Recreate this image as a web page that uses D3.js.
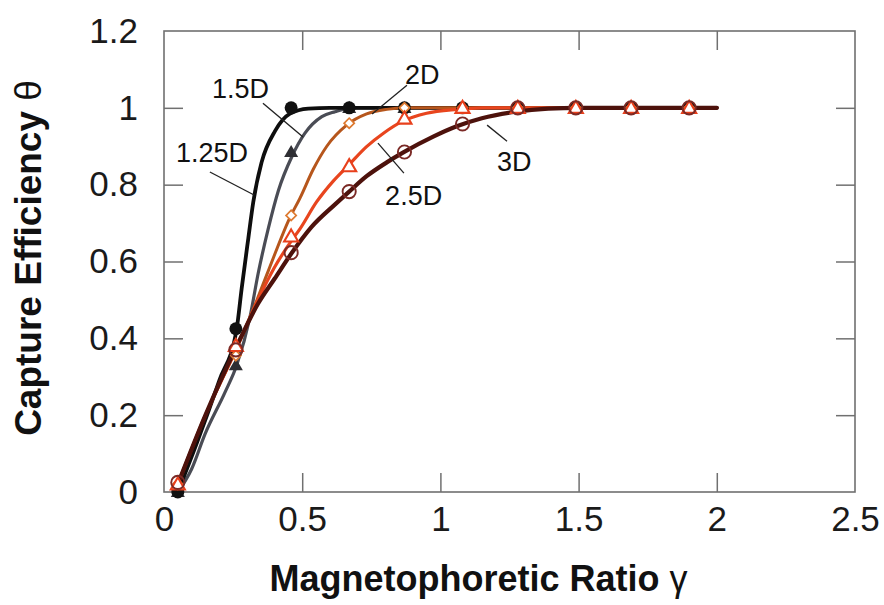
<!DOCTYPE html>
<html>
<head>
<meta charset="utf-8">
<script src="https://cdn.jsdelivr.net/npm/d3@7"></script>
<style>
  html, body { margin: 0; padding: 0; background: #fff; }
  svg { display: block; font-family: Arial, "Liberation Sans", Helvetica, sans-serif; }
</style>
</head>
<body>
<svg id="chart" width="884" height="605"></svg>
<script>
// ---------- data ----------
const xTickValues = [0, 0.5, 1, 1.5, 2, 2.5];
const xTickLabels = ["0", "0.5", "1", "1.5", "2", "2.5"];
const yTickValues = [0, 0.2, 0.4, 0.6, 0.8, 1, 1.2];
const yTickLabels = ["0", "0.2", "0.4", "0.6", "0.8", "1", "1.2"];

const seriesNames = ["1.25D", "1.5D", "2D", "2.5D", "3D"];

// measured points (markers)
const gammaPoints = [0.05, 0.26, 0.46, 0.67, 0.87, 1.08, 1.28, 1.49, 1.69, 1.90];
const theta125 = [0, 0.425, 1, 1, 1, 1, 1, 1, 1, 1];
const theta15  = [0, 0.33, 0.885, 1, 1, 1, 1, 1, 1, 1];
const theta2   = [0.02, 0.355, 0.72, 0.96, 1, 1, 1, 1, 1, 1];
const theta25  = [0.02, 0.38, 0.665, 0.848, 0.972, 1, 1, 1, 1, 1];
const theta3   = [0.025, 0.37, 0.623, 0.782, 0.885, 0.958, 1, 1, 1, 1];

// fitted curves
const curve125X = [0.05, 0.12, 0.2, 0.263, 0.281, 0.305, 0.323, 0.353, 0.402, 0.456, 0.522, 0.6, 2.0];
const curve125Y = [0, 0.13, 0.29, 0.425, 0.53, 0.66, 0.755, 0.858, 0.94, 0.985, 0.998, 1, 1];
const curve15X = [0.05, 0.1, 0.148, 0.221, 0.263, 0.311, 0.341, 0.377, 0.414, 0.462, 0.51, 0.571, 0.619, 0.68, 2.0];
const curve15Y = [0, 0.06, 0.15, 0.26, 0.33, 0.455, 0.57, 0.685, 0.785, 0.872, 0.934, 0.977, 0.99, 1, 1];
const curve2X = [0.05, 0.15, 0.26, 0.317, 0.377, 0.456, 0.492, 0.54, 0.589, 0.661, 0.733, 0.806, 0.87, 2.0];
const curve2Y = [0.02, 0.2, 0.37, 0.465, 0.575, 0.715, 0.765, 0.84, 0.9, 0.955, 0.984, 0.996, 1, 1];
const curve25X = [0.05, 0.15, 0.26, 0.34, 0.40, 0.462, 0.492, 0.552, 0.613, 0.667, 0.733, 0.794, 0.866, 0.95, 1.059, 1.15, 2.0];
const curve25Y = [0.02, 0.2, 0.37, 0.5, 0.585, 0.655, 0.685, 0.755, 0.81, 0.85, 0.899, 0.934, 0.966, 0.986, 0.996, 1, 1];
const curve3X = [0.05, 0.15, 0.26, 0.34, 0.40, 0.462, 0.534, 0.618, 0.667, 0.733, 0.806, 0.866, 0.974, 1.059, 1.15, 1.273, 1.39, 1.5, 2.0];
const curve3Y = [0.02, 0.2, 0.375, 0.49, 0.555, 0.622, 0.69, 0.748, 0.78, 0.822, 0.858, 0.884, 0.925, 0.952, 0.973, 0.99, 0.998, 1, 1];

// ---------- layout ----------
const svg = d3.select("#chart");
const M = { left: 164, right: 855, top: 31, bottom: 492 };
const x = d3.scaleLinear().domain([0, 2.5]).range([M.left, M.right]);
const y = d3.scaleLinear().domain([0, 1.2]).range([M.bottom, M.top]);

const styles = {
  "1.25D": { color: "#0e0e0e", width: 3.8 },
  "1.5D":  { color: "#4a4c55", width: 3.2 },
  "2D":    { color: "#b6561c", width: 3.0 },
  "2.5D":  { color: "#e8451e", width: 3.2 },
  "3D":    { color: "#4d120c", width: 4.2 }
};

const curves = {
  "1.25D": [curve125X, curve125Y],
  "1.5D": [curve15X, curve15Y],
  "2D": [curve2X, curve2Y],
  "2.5D": [curve25X, curve25Y],
  "3D": [curve3X, curve3Y]
};
const points = {
  "1.25D": theta125, "1.5D": theta15, "2D": theta2, "2.5D": theta25, "3D": theta3
};

// ---------- axes ----------
const tickLen = 19;
const axisColor = "#707070";
const fontTick = 35;

const gx = svg.append("g").attr("transform", `translate(0,${M.bottom})`)
  .call(d3.axisBottom(x).tickValues(xTickValues)
    .tickFormat((d, i) => xTickLabels[i])
    .tickSizeInner(-tickLen).tickSizeOuter(0).tickPadding(14));
const gy = svg.append("g").attr("transform", `translate(${M.left},0)`)
  .call(d3.axisLeft(y).tickValues(yTickValues)
    .tickFormat((d, i) => yTickLabels[i])
    .tickSizeInner(-tickLen).tickSizeOuter(0).tickPadding(26));
const gxt = svg.append("g").attr("transform", `translate(0,${M.top})`)
  .call(d3.axisTop(x).tickValues(xTickValues).tickFormat("")
    .tickSizeInner(-tickLen).tickSizeOuter(0));
const gyr = svg.append("g").attr("transform", `translate(${M.right},0)`)
  .call(d3.axisRight(y).tickValues(yTickValues).tickFormat("")
    .tickSizeInner(-tickLen).tickSizeOuter(0));

[gx, gy, gxt, gyr].forEach(g => {
  g.select(".domain").remove();
  g.selectAll(".tick line").attr("stroke", axisColor).attr("stroke-width", 1.5);
  g.selectAll(".tick text").attr("font-size", fontTick).attr("fill", "#1a1a1a")
    .attr("font-family", "Arial, 'Liberation Sans', sans-serif");
});
// hide ticks coinciding with frame
gx.selectAll(".tick").filter(d => d === 0 || d === 2.5).select("line").remove();
gxt.selectAll(".tick").filter(d => d === 0 || d === 2.5).remove();
gy.selectAll(".tick").filter(d => d === 0 || d === 1.2).select("line").remove();
gyr.selectAll(".tick").filter(d => d === 0 || d === 1.2).remove();

svg.append("rect")
  .attr("x", M.left).attr("y", M.top)
  .attr("width", M.right - M.left).attr("height", M.bottom - M.top)
  .attr("fill", "none").attr("stroke", axisColor).attr("stroke-width", 1.6);

// ---------- curves ----------
const line = d3.line().x(d => x(d[0])).y(d => y(d[1])).curve(d3.curveMonotoneX);
const drawOrder = ["1.5D", "1.25D", "2D", "2.5D", "3D"];
drawOrder.forEach(name => {
  const [cx, cy] = curves[name];
  const data = cx.map((v, i) => [v, cy[i]]);
  svg.append("path").datum(data)
    .attr("d", line)
    .attr("fill", "none")
    .attr("stroke", styles[name].color)
    .attr("stroke-width", styles[name].width)
    .attr("stroke-linejoin", "round")
    .attr("stroke-linecap", "round");
});

// ---------- markers ----------
const tri = d3.symbol().type(d3.symbolTriangle).size(85);
const sq = d3.symbol().type(d3.symbolSquare).size(52);

function pts(name) { return gammaPoints.map((g, i) => [g, points[name][i]]); }

svg.append("g").selectAll("path").data(pts("1.5D")).join("path")
  .attr("d", tri).attr("transform", d => `translate(${x(d[0])},${y(d[1]) + 1})`)
  .attr("fill", "#2e2e33");

svg.append("g").selectAll("circle").data(pts("1.25D")).join("circle")
  .attr("cx", d => x(d[0])).attr("cy", d => y(d[1])).attr("r", 6.5)
  .attr("fill", "#111");

svg.append("g").selectAll("path").data(pts("2D")).join("path")
  .attr("d", sq).attr("transform", d => `translate(${x(d[0])},${y(d[1])}) rotate(45)`)
  .attr("fill", "#fff").attr("stroke", "#de7a30").attr("stroke-width", 1.7);

svg.append("g").selectAll("path").data(pts("2.5D")).join("path")
  .attr("d", tri).attr("transform", d => `translate(${x(d[0])},${y(d[1]) + 1})`)
  .attr("fill", "#fff").attr("stroke", "#e8401c").attr("stroke-width", 2.1);

svg.append("g").selectAll("circle").data(pts("3D")).join("circle")
  .attr("cx", d => x(d[0])).attr("cy", d => y(d[1])).attr("r", 6.6)
  .attr("fill", "none").attr("stroke", "#7b2a26").attr("stroke-width", 1.9);

// ---------- annotations (data coordinates) ----------
const annotations = [
  { text: "1.5D",  tx: 0.174, ty: 1.025, l: [0.358, 1.012, 0.503, 0.924] },
  { text: "1.25D", tx: 0.043, ty: 0.859, l: [0.166, 0.833, 0.326, 0.773] },
  { text: "2D",    tx: 0.872, ty: 1.062, l: [0.879, 1.059, 0.753, 0.984] },
  { text: "2.5D",  tx: 0.800, ty: 0.747, l: [0.774, 0.908, 0.868, 0.830] },
  { text: "3D",    tx: 1.205, ty: 0.836, l: [1.169, 0.955, 1.241, 0.913] }
];
const ga = svg.append("g");
annotations.forEach(a => {
  ga.append("line")
    .attr("x1", x(a.l[0])).attr("y1", y(a.l[1]))
    .attr("x2", x(a.l[2])).attr("y2", y(a.l[3]))
    .attr("stroke", "#222").attr("stroke-width", 1.3);
  ga.append("text").attr("x", x(a.tx)).attr("y", y(a.ty))
    .attr("font-size", 27).attr("fill", "#111").text(a.text);
});

// ---------- titles ----------
const xt = svg.append("text")
  .attr("x", (M.left + M.right) / 2 - 31).attr("y", 591)
  .attr("text-anchor", "middle").attr("font-size", 36).attr("font-weight", "bold")
  .attr("fill", "#111");
xt.append("tspan").text("Magnetophoretic Ratio ");
xt.append("tspan").attr("font-weight", "normal").text("γ");

const yt = svg.append("text")
  .attr("transform", `translate(41,${258}) rotate(-90)`)
  .attr("text-anchor", "middle").attr("font-size", 37).attr("font-weight", "bold")
  .attr("fill", "#111");
yt.append("tspan").text("Capture Efficiency ");
yt.append("tspan").attr("font-weight", "normal").text("θ");
</script>
</body>
</html>
